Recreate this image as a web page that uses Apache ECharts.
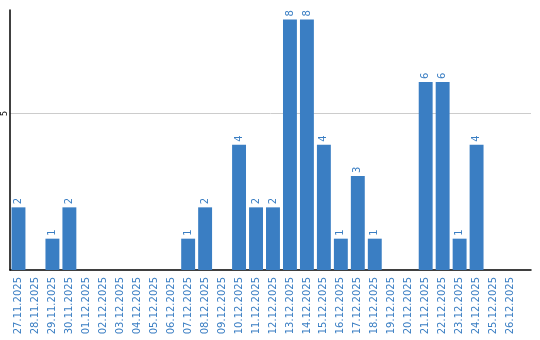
<!DOCTYPE html>
<html><head><meta charset="utf-8">
<script src="https://cdn.jsdelivr.net/npm/echarts@6/dist/echarts.min.js"></script>
<style>html,body{margin:0;padding:0;background:#fff}#c{width:540px;height:340px}</style>
</head><body><div id="c"></div>
<script>
const categories = ["27.11.2025","28.11.2025","29.11.2025","30.11.2025","01.12.2025","02.12.2025","03.12.2025","04.12.2025","05.12.2025","06.12.2025","07.12.2025","08.12.2025","09.12.2025","10.12.2025","11.12.2025","12.12.2025","13.12.2025","14.12.2025","15.12.2025","16.12.2025","17.12.2025","18.12.2025","19.12.2025","20.12.2025","21.12.2025","22.12.2025","23.12.2025","24.12.2025","25.12.2025","26.12.2025"];
const values = [2,0,1,2,0,0,0,0,0,0,1,2,0,4,2,2,8,8,4,1,3,1,0,0,6,6,1,4,0,0];
const yTicks = [5];
const yMax = 8.3;

const chart = echarts.init(document.getElementById('c'), null, {renderer:'canvas'});
const blue = '#3a7ec3';
chart.setOption({
  animation:false,
  grid:[
    {left:10, right:9, top:10, bottom:70, containLabel:false},
    {left:10, right:21, top:10, bottom:70, containLabel:false}
  ],
  xAxis:[
    {
      type:'category', gridIndex:0, data:categories,
      axisLine:{lineStyle:{color:'#000', width:1.5}},
      axisTick:{show:false}, axisLabel:{show:false}, splitLine:{show:false}
    },
    {
      type:'category', gridIndex:1, data:categories,
      axisLine:{show:false},
      axisTick:{show:false},
      axisLabel:{rotate:90, color:blue, fontSize:10, fontFamily:'DejaVu Sans', interval:0, margin:7}
    }
  ],
  yAxis:[
    {
      type:'value', gridIndex:0, min:0, max:yMax, interval:5,
      axisLine:{show:true, lineStyle:{color:'#000', width:1.5}},
      axisTick:{show:false},
      splitLine:{show:true, lineStyle:{color:'#ccc'}, showMaxLine:false, showMinLine:false},
      axisLabel:{
        rotate:90, fontSize:8, lineHeight:7, color:'#000', fontFamily:'DejaVu Sans', margin:2,
        formatter: v => yTicks.includes(v) ? String(v) : ''
      }
    },
    {
      type:'value', gridIndex:1, min:0, max:yMax, interval:5,
      axisLine:{show:false}, axisTick:{show:false}, axisLabel:{show:false}, splitLine:{show:false}
    }
  ],
  series:[{
    type:'bar', xAxisIndex:1, yAxisIndex:1, data:values, barCategoryGap:'18%',
    itemStyle:{color:blue},
    label:{
      show:true, position:'top', rotate:90, align:'left', verticalAlign:'middle',
      distance:3, color:blue, fontSize:10, fontFamily:'DejaVu Sans',
      formatter: p => p.value > 0 ? String(p.value) : ''
    }
  }]
});
</script></body></html>
